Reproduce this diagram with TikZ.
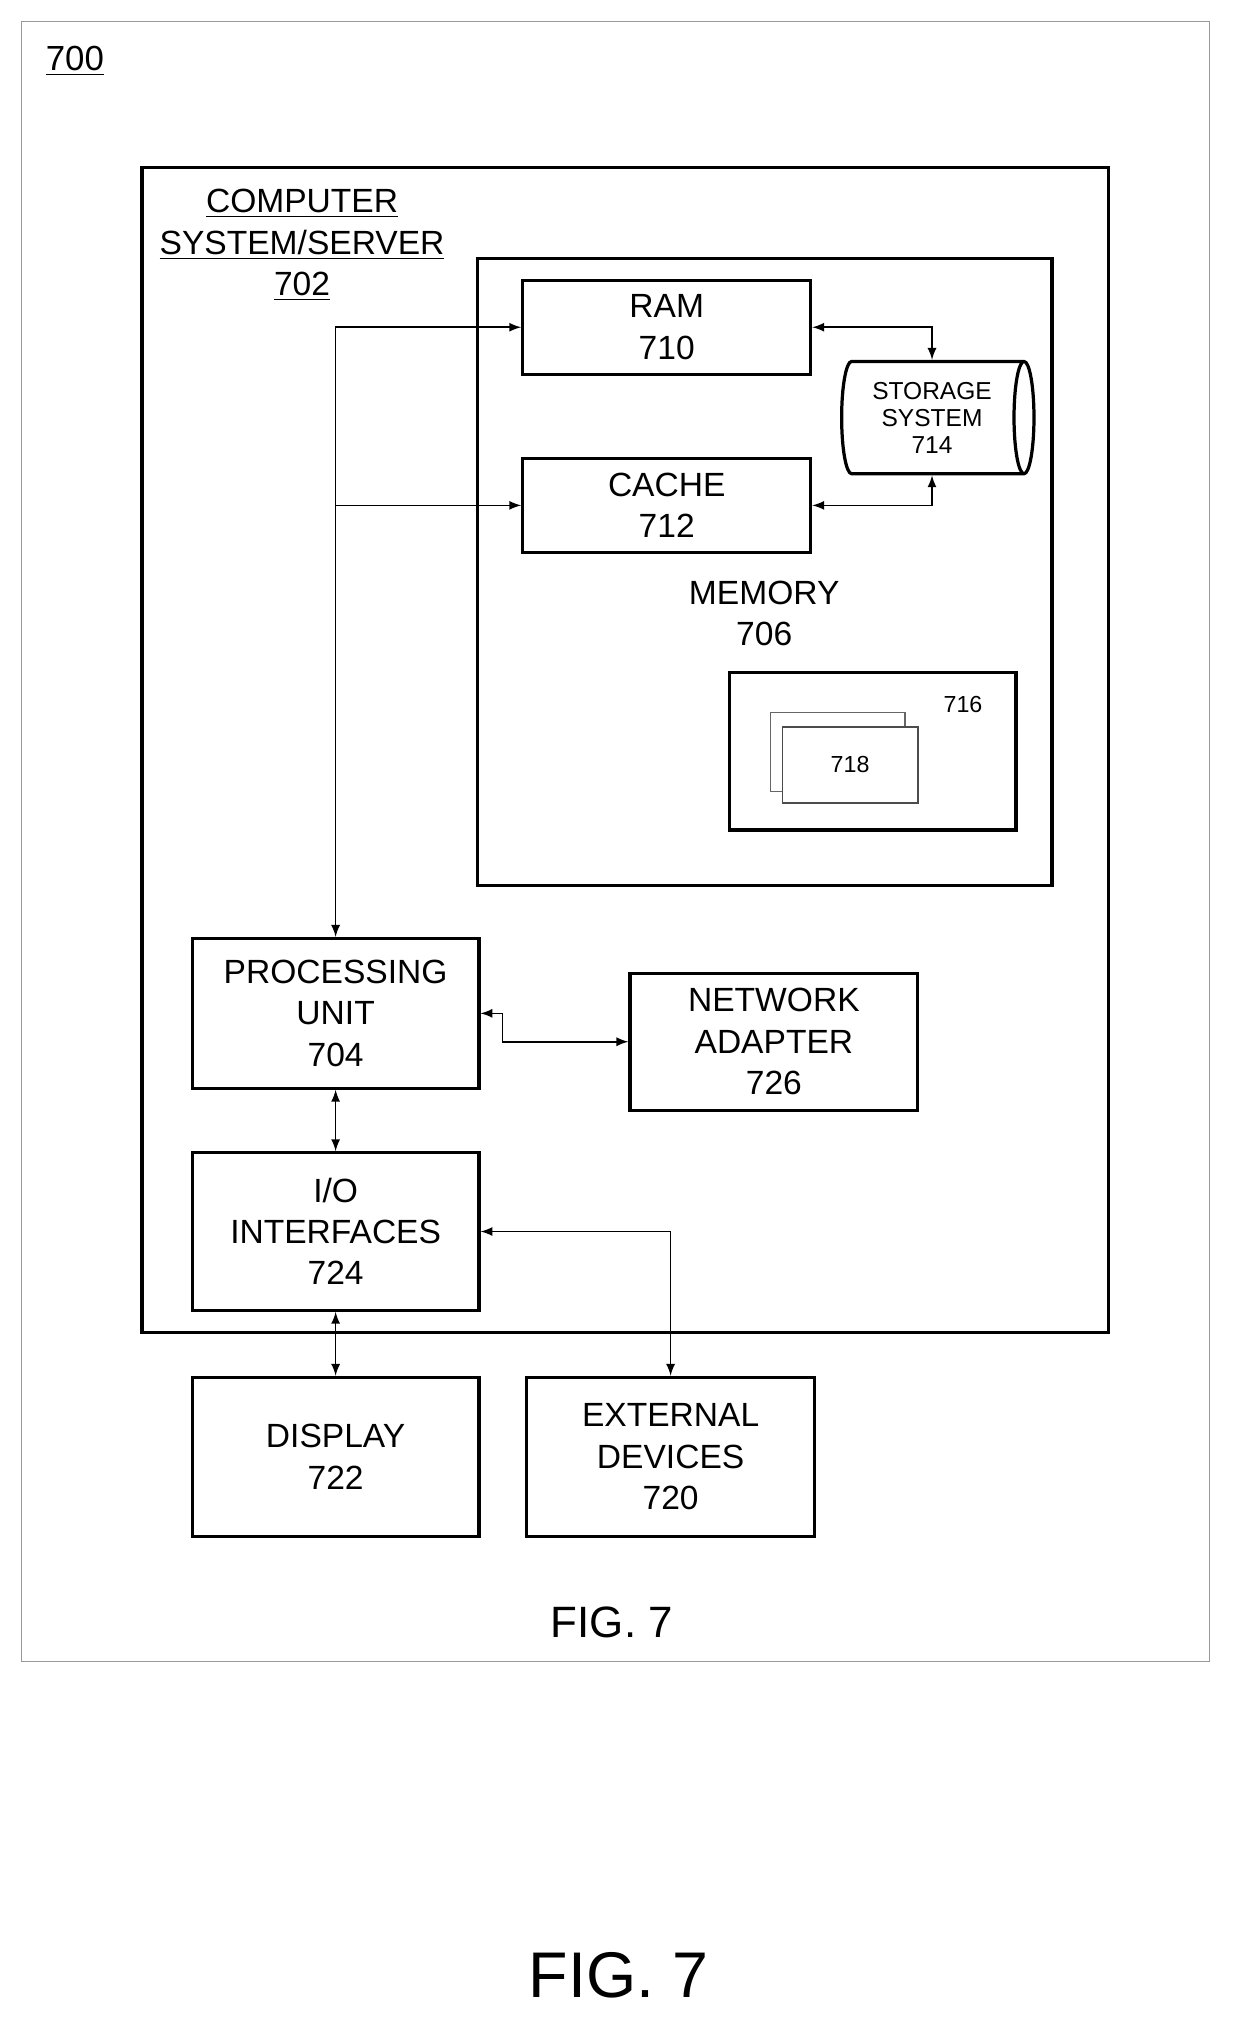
\documentclass[tikz,border=0pt]{standalone}
\usepackage{fontspec}
\setmainfont{Liberation Sans}
\usetikzlibrary{shapes.geometric}
\newcommand{\boxfont}{\fontsize{13}{16}\selectfont}
\tikzset{
  box/.style={draw, line width=1.25pt, align=center, font=\boxfont, inner sep=0pt},
  link/.style={line width=0.6pt, >=latex}
}
\begin{document}
\begin{tikzpicture}[x=0.5pt, y=-0.5pt]

    \useasboundingbox (0,0) rectangle (960,1578);

    % page frame
    \draw[black!40, line width=0.4pt] (17,17) rectangle (937,1287);
    \node[font=\fontsize{13.5}{16}\selectfont] (l700) at (58,47) {\underline{700}};

    % computer system
    \draw[line width=1.25pt] (110,130) rectangle (859,1032);
    \node[align=center, font=\boxfont] (title) at (234,190)
      {\underline{COMPUTER}\\\underline{SYSTEM/SERVER}\\\underline{702}};

    % memory
    \node[box, minimum width=222.5pt, minimum height=243pt] (mem) at (592.5,443) {};
    \node[align=center, font=\boxfont] (memlbl) at (592,475) {MEMORY\\706};
    \node[box, minimum width=111.5pt, minimum height=36.5pt] (ram) at (516.5,253.5) {RAM\\710};
    \node[box, minimum width=111.5pt, minimum height=36.5pt] (cache) at (516.5,391.5) {CACHE\\712};
    \node[cylinder, draw, line width=1.25pt, shape border rotate=0, aspect=0.28,
          minimum height=74.5pt, minimum width=43.5pt, inner sep=0pt, align=center,
          font=\fontsize{9.5}{10.5}\selectfont] (stor) at (722,323.5) {STORAGE\\SYSTEM\\714};

    % program modules
    \node[box, minimum width=111pt, minimum height=61pt] (prog) at (676,582) {};
    \node[font=\fontsize{9}{10}\selectfont] (l716) at (746,546) {716};
    \draw[black!60, line width=0.6pt] (597,552) rectangle (701,613);
    \node[draw, black!70, fill=white, line width=0.6pt, minimum width=52.5pt, minimum height=29.5pt,
          font=\fontsize{9}{10}\selectfont, text=black] (mod) at (658.5,592.5) {718};

    % lower blocks
    \node[box, minimum width=111pt, minimum height=58pt] (proc) at (260,785) {PROCESSING\\UNIT\\704};
    \node[box, minimum width=111.5pt, minimum height=53pt] (net) at (599.5,807) {NETWORK\\ADAPTER\\726};
    \node[box, minimum width=111pt, minimum height=61pt] (io) at (260,954) {I/O\\INTERFACES\\724};
    \node[box, minimum width=111pt, minimum height=61.5pt] (disp) at (260,1128.5) {DISPLAY\\722};
    \node[box, minimum width=111.5pt, minimum height=61.5pt] (ext) at (519.5,1128.5) {EXTERNAL\\DEVICES\\720};

    % connectors
    \draw[link, <->] (proc.north) |- (ram.west);
    \draw[link, ->] (proc.north |- cache.west) -- (cache.west);
    \draw[link, <->] (ram.east) -| (stor.north);
    \draw[link, <->] (cache.east) -| (stor.south);
    \draw[link, <->] (proc.east) -- ++(17,0) |- (net.west);
    \draw[link, <->] (proc.south) -- (io.north);
    \draw[link, <->] (io.east) -| (ext.north);
    \draw[link, <->] (io.south) -- (disp.north);

    \node[font=\fontsize{17}{20}\selectfont] (fig) at (474,1257) {FIG. 7};
    \node[font=\fontsize{25}{28}\selectfont] (figbig) at (479,1530) {FIG. 7};

\end{tikzpicture}
\end{document}
